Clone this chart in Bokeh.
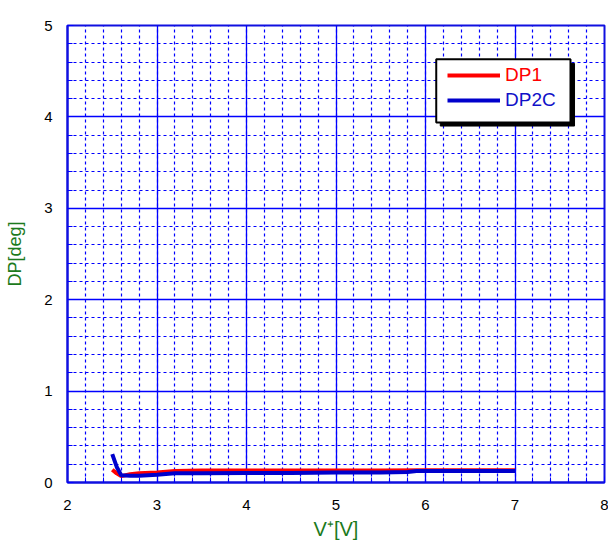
from bokeh.plotting import figure
from bokeh.models import (Range1d, SingleIntervalTicker, Legend, LegendItem,
                          BoxAnnotation)
from bokeh.embed import file_html
from bokeh.resources import INLINE

# ---- data ----
dp1_x = [2.5, 2.55, 2.6, 2.7, 2.8, 3.0, 3.2, 3.5, 4.0, 4.5, 5.0, 5.5, 6.0, 6.5, 7.0]
dp1_y = [0.14, 0.10, 0.07, 0.09, 0.10, 0.11, 0.125, 0.13, 0.13, 0.13, 0.13, 0.13, 0.135, 0.135, 0.135]

dp2c_x = [2.5, 2.55, 2.6, 2.7, 2.8, 2.9, 3.0, 3.2, 3.5, 4.0, 4.5, 5.0, 5.5, 5.8, 5.9, 6.0, 6.5, 7.0]
dp2c_y = [0.31, 0.17, 0.08, 0.075, 0.075, 0.08, 0.085, 0.10, 0.10, 0.105, 0.105, 0.11, 0.11, 0.115, 0.125, 0.125, 0.125, 0.125]

x_label = "V\u207a[V]"
y_label = "DP[deg]"
series_names = ["DP1", "DP2C"]

GRID = "#0000ff"
FONT = "Liberation Sans"

p = figure(width=608, height=544, output_backend="svg", toolbar_location=None,
           x_range=Range1d(2, 8), y_range=Range1d(0, 5),
           min_border_left=67, min_border_right=4, min_border_top=25, min_border_bottom=62,
           x_axis_label=x_label, y_axis_label=y_label)

p.background_fill_color = "white"
p.border_fill_color = "white"
p.outline_line_color = "#1010e0"
p.outline_line_width = 2

for ax in (p.xaxis[0], p.yaxis[0]):
    ax.ticker = SingleIntervalTicker(interval=1, num_minor_ticks=5)
    ax.axis_line_color = "#1010e0"
    ax.axis_line_width = 2
    ax.major_tick_line_color = GRID
    ax.minor_tick_line_color = GRID
    ax.major_tick_in = 6
    ax.major_tick_out = 0
    ax.minor_tick_in = 5
    ax.minor_tick_out = 0
    ax.major_label_text_font = FONT
    ax.major_label_text_font_size = "15px"
    ax.major_label_text_color = "black"
    ax.axis_label_text_font = FONT
    ax.axis_label_text_font_style = "normal"
    ax.axis_label_text_color = "#1c7a1c"

p.xaxis.axis_label_text_font_size = "20px"
p.yaxis.axis_label_text_font_size = "18px"
p.xaxis.major_label_standoff = 17
p.xaxis.axis_label_standoff = 5
p.yaxis.major_label_standoff = 15
p.yaxis.axis_label_standoff = 16

for g in (p.xgrid[0], p.ygrid[0]):
    g.grid_line_color = "blue"
    g.grid_line_width = 1.3
    g.grid_line_alpha = 1.0
    g.minor_grid_line_color = "blue"
    g.minor_grid_line_dash = "3 3"
    g.minor_grid_line_width = 1.2
    g.minor_grid_line_alpha = 1.0
p.xgrid[0].ticker = p.xaxis[0].ticker
p.ygrid[0].ticker = p.yaxis[0].ticker

r1 = p.line(dp1_x, dp1_y, line_color="#ff0000", line_width=4)
r2 = p.line(dp2c_x, dp2c_y, line_color="#0000cc", line_width=4)

# legend frame with shadow
shadow = BoxAnnotation(left=6.165, right=7.665, top=4.585, bottom=3.90,
                       fill_color="black", fill_alpha=1.0, line_color="black", line_alpha=1.0)
box = BoxAnnotation(left=6.12, right=7.62, top=4.63, bottom=3.94,
                    fill_color="white", fill_alpha=1.0, line_color="black", line_width=2, line_alpha=1.0)
p.add_layout(shadow)
p.add_layout(box)

leg_colors = ["#ff0000", "#1010c8"]
renderers = [r1, r2]
locs = [(380, 396), (380, 371)]
for name, col, rr, loc in zip(series_names, leg_colors, renderers, locs):
    lg = Legend(items=[LegendItem(label=name, renderers=[rr])], location=loc,
                background_fill_alpha=0, border_line_alpha=0, padding=0, margin=0,
                glyph_width=53, glyph_height=20, label_standoff=5,
                label_text_font=FONT, label_text_font_size="19px",
                label_text_color=col)
    p.add_layout(lg)

open("out.html", "w").write(file_html(p, INLINE))
